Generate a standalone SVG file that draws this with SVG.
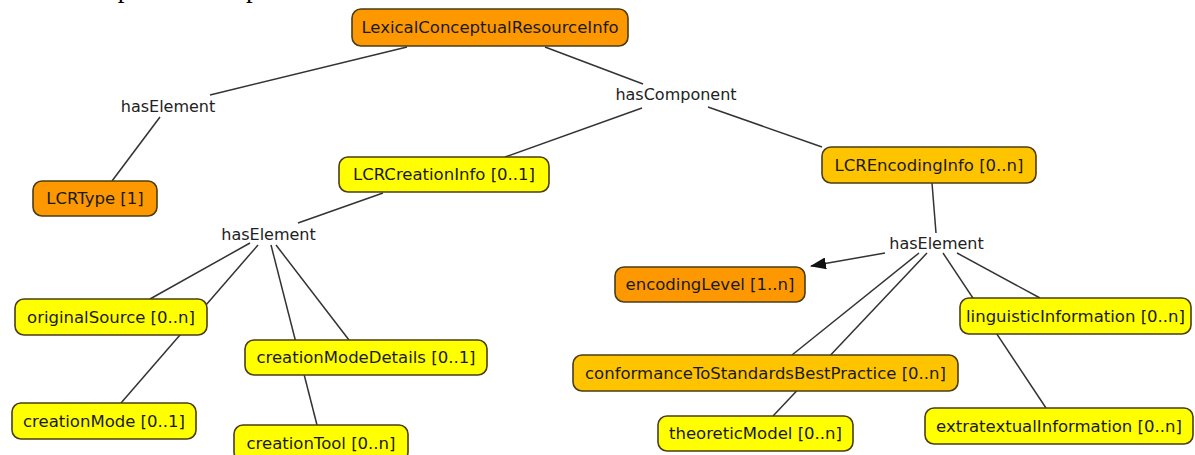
<svg xmlns="http://www.w3.org/2000/svg" width="1195" height="455" viewBox="0 0 1195 455">
<defs>
<marker id="arr" markerWidth="16" markerHeight="12" refX="15" refY="6" orient="auto" markerUnits="userSpaceOnUse">
<path d="M0,0 L16,6 L0,12 Z" fill="#111"/>
</marker>
</defs>
<style>
.n rect{stroke:#4a3c14;stroke-width:1.6}
.o rect{fill:#fd9800}
.y rect{fill:#ffff00}
.g rect{fill:#ffc400}
.n text{font-family:"DejaVu Sans",Verdana,sans-serif;font-size:16.5px;fill:#1a1a1a;text-anchor:middle;dominant-baseline:central}
.lbl{font-family:"DejaVu Sans",Verdana,sans-serif;font-size:16px;fill:#222;text-anchor:middle;dominant-baseline:central}
#edges line{stroke:#333;stroke-width:1.5;fill:none}
.top{font-family:"Liberation Serif","Times New Roman",serif;font-size:27px;fill:#000}
</style>
<rect width="1195" height="455" fill="#fff"/>
<text class="top" x="57" y="-3">two optional components are foreseen</text>
<g id="edges">
<line x1="407" y1="47" x2="210" y2="95"/>
<line x1="160" y1="117" x2="112" y2="181"/>
<line x1="545" y1="47" x2="643" y2="84"/>
<line x1="642" y1="108" x2="505" y2="157"/>
<line x1="708" y1="107" x2="822" y2="147"/>
<line x1="383" y1="193" x2="298" y2="223"/>
<line x1="250" y1="243" x2="150" y2="299"/>
<line x1="258" y1="245" x2="121" y2="403"/>
<line x1="271" y1="245" x2="317" y2="425"/>
<line x1="276" y1="245" x2="349" y2="340"/>
<line x1="932" y1="183" x2="936" y2="233"/>
<line x1="885" y1="253" x2="811" y2="266" marker-end="url(#arr)"/>
<line x1="919" y1="253" x2="792" y2="355"/>
<line x1="927" y1="253" x2="773" y2="416"/>
<line x1="943" y1="253" x2="1046" y2="408"/>
<line x1="957" y1="253" x2="1040" y2="298"/>
</g>
<text class="lbl" x="168" y="106">hasElement</text>
<text class="lbl" x="676" y="94">hasComponent</text>
<text class="lbl" x="268.5" y="234">hasElement</text>
<text class="lbl" x="936.5" y="243">hasElement</text>
<g id="n-root" class="n o"><rect x="352" y="9" width="276" height="37" rx="9"/><text x="490" y="27.5">LexicalConceptualResourceInfo</text></g>
<g id="n-lcrtype" class="n o"><rect x="33" y="181" width="124" height="35" rx="9"/><text x="95" y="198.5">LCRType [1]</text></g>
<g id="n-creation" class="n y"><rect x="339" y="157" width="210" height="35" rx="9"/><text x="444" y="174.5">LCRCreationInfo [0..1]</text></g>
<g id="n-encoding" class="n g"><rect x="822" y="147" width="214" height="36" rx="9"/><text x="929" y="165">LCREncodingInfo [0..n]</text></g>
<g id="n-origsrc" class="n y"><rect x="15" y="299" width="192" height="36" rx="9"/><text x="111" y="317">originalSource [0..n]</text></g>
<g id="n-cmdetails" class="n y"><rect x="245" y="340" width="242" height="35" rx="9"/><text x="366" y="357.5">creationModeDetails [0..1]</text></g>
<g id="n-cmode" class="n y"><rect x="12" y="403" width="184" height="36" rx="9"/><text x="104" y="421">creationMode [0..1]</text></g>
<g id="n-ctool" class="n y"><rect x="234" y="425" width="174" height="36" rx="9"/><text x="321" y="443">creationTool [0..n]</text></g>
<g id="n-enclevel" class="n o"><rect x="615" y="267" width="190" height="35" rx="9"/><text x="710" y="284.5">encodingLevel [1..n]</text></g>
<g id="n-ling" class="n y"><rect x="960" y="298" width="231" height="36" rx="9"/><text x="1075.5" y="316">linguisticInformation [0..n]</text></g>
<g id="n-conf" class="n g"><rect x="573" y="355" width="385" height="36" rx="9"/><text x="765.5" y="373">conformanceToStandardsBestPractice [0..n]</text></g>
<g id="n-theor" class="n y"><rect x="658" y="416" width="195" height="35" rx="9"/><text x="755.5" y="433.5">theoreticModel [0..n]</text></g>
<g id="n-extra" class="n y"><rect x="925" y="408" width="268" height="36" rx="9"/><text x="1059" y="426">extratextualInformation [0..n]</text></g>
</svg>
